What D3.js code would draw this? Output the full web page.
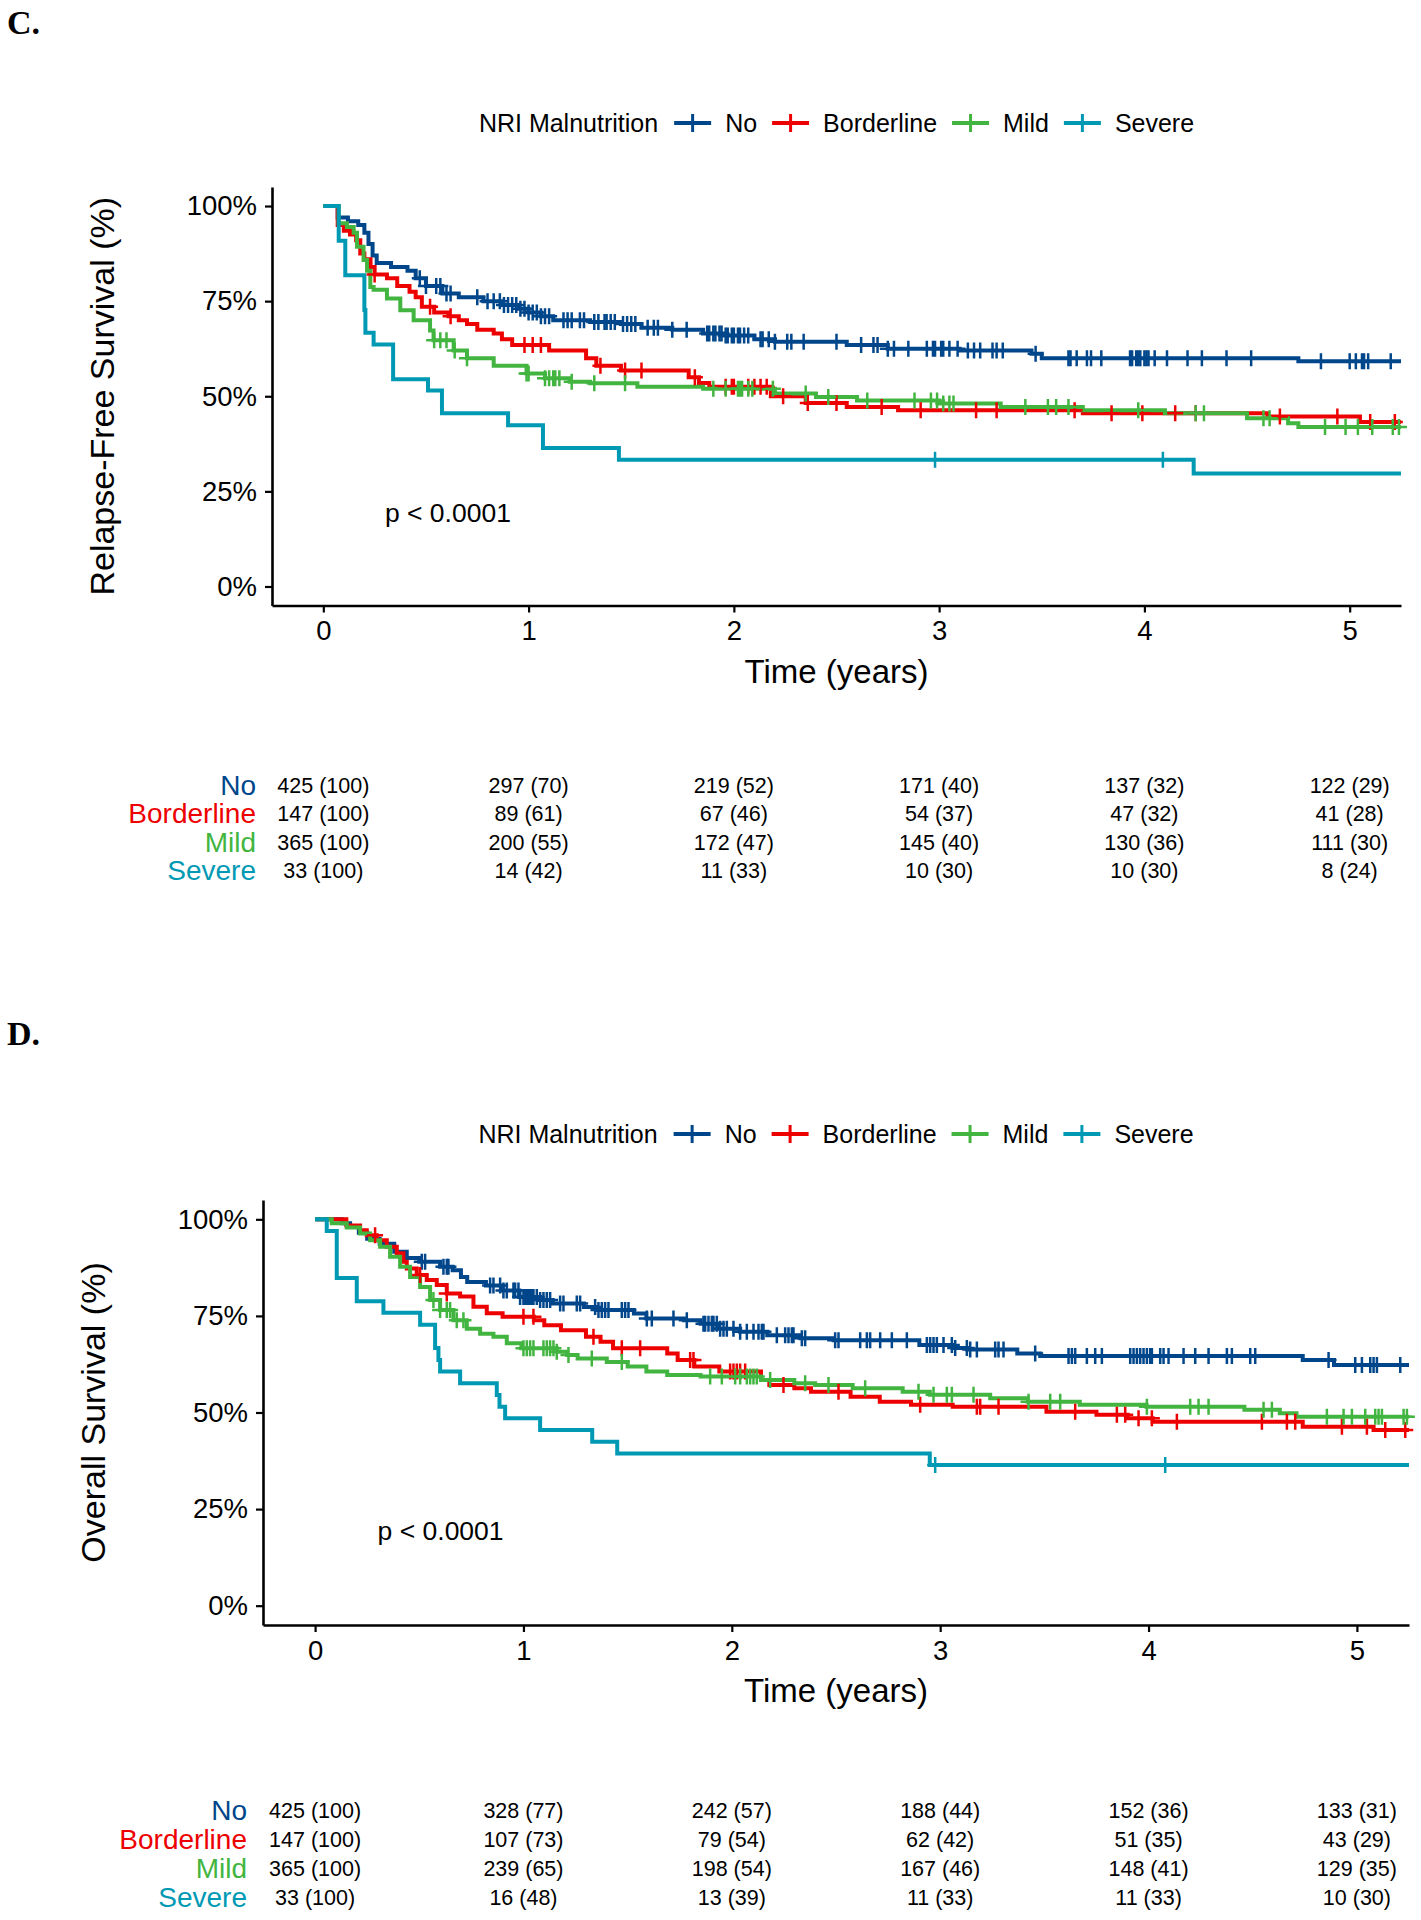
<!DOCTYPE html>
<html>
<head>
<meta charset="utf-8">
<script src="https://cdn.jsdelivr.net/npm/d3@7"></script>
<style>
  body { margin: 0; background: #fff; }
  svg { display: block; }
</style>
</head>
<body>
<svg id="svg" width="1421" height="1920"></svg>
<script>

// groups and colours (Lancet palette)
var groups = ["No", "Borderline", "Mild", "Severe"];
var groupColors = ["#00468B", "#ED0000", "#42B540", "#0099B4"];
var legendTitle = "NRI Malnutrition";

var xTicks = [0, 1, 2, 3, 4, 5];
var yTicks = [0, 0.25, 0.5, 0.75, 1];

// ---------- C. relapse-free survival : steps [time, survival] ----------
var rfsNo = [[0,1],[0.07,0.97],[0.12,0.96],[0.17,0.95],[0.2,0.93],[0.22,0.9],[0.24,0.87],[0.26,0.85],[0.33,0.84],[0.41,0.83],[0.45,0.81],[0.5,0.79],[0.58,0.77],[0.66,0.76],[0.78,0.75],[0.87,0.74],[0.95,0.73],[1.0,0.72],[1.06,0.71],[1.12,0.70],[1.3,0.695],[1.45,0.69],[1.55,0.68],[1.7,0.675],[1.85,0.665],[1.95,0.66],[2.1,0.65],[2.2,0.643],[2.55,0.635],[2.75,0.625],[3.1,0.62],[3.45,0.612],[3.5,0.60],[4.75,0.592]];
var rfsBorderline = [[0,1],[0.07,0.95],[0.1,0.935],[0.13,0.925],[0.16,0.91],[0.18,0.875],[0.2,0.86],[0.23,0.84],[0.25,0.82],[0.31,0.81],[0.36,0.79],[0.42,0.775],[0.45,0.76],[0.48,0.735],[0.54,0.72],[0.61,0.71],[0.66,0.70],[0.7,0.69],[0.75,0.675],[0.83,0.665],[0.87,0.65],[0.92,0.635],[1.1,0.62],[1.28,0.60],[1.33,0.58],[1.45,0.568],[1.78,0.55],[1.83,0.535],[1.88,0.525],[2.18,0.5],[2.35,0.482],[2.55,0.472],[2.8,0.463],[3.7,0.455],[4.6,0.447],[5.05,0.432]];
var rfsMild = [[0,1],[0.075,0.955],[0.115,0.945],[0.148,0.93],[0.164,0.893],[0.196,0.858],[0.213,0.83],[0.229,0.787],[0.245,0.78],[0.31,0.757],[0.375,0.726],[0.44,0.70],[0.52,0.673],[0.537,0.647],[0.635,0.62],[0.7,0.6],[0.83,0.58],[0.99,0.56],[1.08,0.547],[1.2,0.538],[1.3,0.534],[1.53,0.525],[1.85,0.52],[2.2,0.507],[2.4,0.498],[2.6,0.489],[3.0,0.481],[3.3,0.472],[3.7,0.463],[4.1,0.455],[4.5,0.442],[4.7,0.429],[4.75,0.419]];
var rfsSevere = [[0,1],[0.075,0.909],[0.107,0.818],[0.2,0.727],[0.205,0.667],[0.245,0.636],[0.34,0.545],[0.51,0.515],[0.578,0.455],[0.9,0.424],[1.07,0.364],[1.44,0.333],[4.24,0.297]];

// censor times
var rfsNoCens = [0.47,0.5,0.55,0.57,0.6,0.62,0.75,0.8,0.83,0.86,0.88,0.9,0.92,0.94,0.96,0.98,1.0,1.02,1.04,1.06,1.08,1.1,1.17,1.19,1.21,1.25,1.27,1.32,1.34,1.37,1.38,1.4,1.42,1.46,1.48,1.5,1.52,1.58,1.61,1.63,1.7,1.77,1.87,1.88,1.9,1.91,1.93,1.94,1.96,1.97,1.99,2.0,2.02,2.03,2.05,2.07,2.13,2.14,2.17,2.2,2.26,2.28,2.34,2.5,2.62,2.68,2.7,2.75,2.78,2.85,2.94,2.97,2.98,3.01,3.02,3.05,3.09,3.14,3.17,3.2,3.26,3.28,3.31,3.47,3.63,3.64,3.67,3.72,3.74,3.79,3.93,3.94,3.96,3.97,3.98,4.0,4.01,4.02,4.05,4.11,4.21,4.28,4.4,4.52,4.86,5.0,5.03,5.06,5.07,5.09,5.2];
var rfsBorderlineCens = [0.25,0.52,0.62,0.98,1.02,1.06,1.35,1.47,1.55,1.81,1.96,1.99,2.0,2.07,2.1,2.13,2.16,2.24,2.36,2.5,2.72,2.91,3.18,3.28,3.66,3.84,3.99,4.15,4.25,4.66,4.94,5.1,5.22];
var rfsMildCens = [0.54,0.57,0.6,0.64,0.7,0.99,1.0,1.08,1.1,1.12,1.13,1.15,1.21,1.32,1.47,1.9,1.96,2.02,2.03,2.04,2.07,2.09,2.19,2.35,2.46,2.65,2.88,2.96,2.99,3.02,3.05,3.07,3.42,3.53,3.57,3.63,3.97,4.25,4.29,4.58,4.61,4.88,4.98,5.04,5.11,5.21,5.24];
var rfsSevereCens = [2.98, 4.09];

// numbers at risk and (%)
var rfsRiskNo = [425, 297, 219, 171, 137, 122];
var rfsPctNo = [100, 70, 52, 40, 32, 29];
var rfsRiskBorderline = [147, 89, 67, 54, 47, 41];
var rfsPctBorderline = [100, 61, 46, 37, 32, 28];
var rfsRiskMild = [365, 200, 172, 145, 130, 111];
var rfsPctMild = [100, 55, 47, 40, 36, 30];
var rfsRiskSevere = [33, 14, 11, 10, 10, 8];
var rfsPctSevere = [100, 42, 33, 30, 30, 24];

// ---------- D. overall survival ----------
var osNo = [[0,1],[0.13,0.99],[0.168,0.98],[0.21,0.965],[0.25,0.95],[0.31,0.937],[0.38,0.916],[0.44,0.9],[0.5,0.89],[0.6,0.877],[0.66,0.868],[0.7,0.851],[0.73,0.838],[0.82,0.829],[0.9,0.816],[0.98,0.799],[1.08,0.791],[1.14,0.782],[1.29,0.773],[1.35,0.765],[1.53,0.756],[1.59,0.743],[1.77,0.739],[1.85,0.73],[1.93,0.717],[2.04,0.709],[2.17,0.7],[2.33,0.692],[2.49,0.687],[2.9,0.675],[3.06,0.667],[3.13,0.663],[3.37,0.653],[3.48,0.646],[4.74,0.636],[4.89,0.623]];
var osBorderline = [[0,1],[0.15,0.984],[0.216,0.972],[0.248,0.959],[0.296,0.946],[0.344,0.929],[0.392,0.912],[0.424,0.89],[0.44,0.873],[0.488,0.856],[0.536,0.843],[0.584,0.83],[0.632,0.808],[0.696,0.8],[0.76,0.774],[0.824,0.757],[0.9,0.748],[1.05,0.739],[1.1,0.726],[1.18,0.713],[1.3,0.696],[1.37,0.683],[1.43,0.666],[1.69,0.653],[1.74,0.636],[1.82,0.619],[1.94,0.606],[2.14,0.584],[2.18,0.571],[2.3,0.563],[2.38,0.554],[2.57,0.541],[2.71,0.528],[2.86,0.52],[3.06,0.515],[3.51,0.502],[3.75,0.494],[3.9,0.485],[4.02,0.476],[4.74,0.463],[5.08,0.455]];
var osMild = [[0,1],[0.08,0.99],[0.152,0.979],[0.216,0.963],[0.264,0.946],[0.312,0.929],[0.36,0.903],[0.408,0.877],[0.456,0.851],[0.504,0.825],[0.552,0.791],[0.6,0.765],[0.664,0.739],[0.728,0.717],[0.792,0.704],[0.856,0.696],[0.92,0.679],[0.99,0.666],[1.16,0.657],[1.21,0.649],[1.26,0.64],[1.4,0.631],[1.5,0.619],[1.59,0.606],[1.69,0.597],[1.85,0.593],[2.14,0.584],[2.3,0.576],[2.4,0.571],[2.58,0.563],[2.82,0.554],[2.95,0.546],[3.24,0.537],[3.42,0.528],[3.67,0.52],[3.99,0.515],[4.46,0.507],[4.63,0.498],[4.71,0.489]];
var osSevere = [[0,1],[0.056,0.97],[0.104,0.848],[0.2,0.788],[0.328,0.758],[0.504,0.727],[0.576,0.667],[0.592,0.636],[0.6,0.606],[0.696,0.576],[0.872,0.545],[0.885,0.515],[0.912,0.485],[1.08,0.455],[1.33,0.424],[1.45,0.394],[2.95,0.364]];

var osNoCens = [0.512,0.528,0.616,0.632,0.64,0.84,0.856,0.888,0.904,0.92,0.952,0.96,0.976,0.984,1.0,1.008,1.016,1.024,1.032,1.04,1.048,1.064,1.08,1.096,1.112,1.128,1.176,1.192,1.256,1.272,1.344,1.36,1.376,1.392,1.408,1.472,1.488,1.504,1.592,1.616,1.72,1.784,1.864,1.872,1.888,1.904,1.912,1.928,1.944,1.96,1.976,2.008,2.04,2.072,2.104,2.128,2.144,2.152,2.216,2.256,2.272,2.288,2.296,2.336,2.352,2.496,2.512,2.616,2.648,2.664,2.712,2.768,2.84,2.936,2.952,2.968,2.984,3.016,3.056,3.072,3.128,3.144,3.176,3.264,3.28,3.304,3.456,3.616,3.632,3.648,3.704,3.744,3.776,3.912,3.928,3.944,3.96,3.976,3.992,4.008,4.016,4.056,4.072,4.096,4.168,4.224,4.288,4.376,4.4,4.488,4.512,4.864,4.992,5.024,5.064,5.08,5.096,5.208];
var osBorderlineCens = [0.288,0.504,0.632,1.0,1.048,1.336,1.472,1.56,1.8,1.816,1.992,2.008,2.024,2.04,2.064,2.248,2.512,2.904,3.176,3.192,3.28,3.648,3.848,3.888,3.952,4.016,4.136,4.544,4.664,4.704,4.928,5.048,5.136,5.232];
var osMildCens = [0.568,0.6,0.632,0.648,0.68,0.712,1.0,1.016,1.032,1.048,1.096,1.112,1.128,1.144,1.16,1.216,1.328,1.472,1.896,1.952,2.016,2.04,2.072,2.088,2.104,2.12,2.184,2.352,2.464,2.64,2.896,2.968,3.032,3.056,3.16,3.424,3.528,3.576,3.992,4.2,4.24,4.288,4.552,4.592,4.856,4.936,4.976,5.04,5.088,5.104,5.12,5.224,5.24];
var osSevereCens = [2.976, 4.08];

var osRiskNo = [425, 328, 242, 188, 152, 133];
var osPctNo = [100, 77, 57, 44, 36, 31];
var osRiskBorderline = [147, 107, 79, 62, 51, 43];
var osPctBorderline = [100, 73, 54, 42, 35, 29];
var osRiskMild = [365, 239, 198, 167, 148, 129];
var osPctMild = [100, 65, 54, 46, 41, 35];
var osRiskSevere = [33, 16, 13, 11, 11, 10];
var osPctSevere = [100, 48, 39, 33, 33, 30];


// panel layout
var sans = "'Liberation Sans', Arial, sans-serif";
var xDomain = [-0.25, 5.25];
var yDomain = [-0.05, 1.05];

var panels = [
	{
		letter: "C.", letterY: 34,
		yTitle: "Relapse-Free Survival (%)",
		left: 272, right: 1401, top: 187, bottom: 605.5,
		legendY: 123, riskTop: 785, riskStep: 28.5,
		curves: [rfsNo, rfsBorderline, rfsMild, rfsSevere],
		cens: [rfsNoCens, rfsBorderlineCens, rfsMildCens, rfsSevereCens],
		risk: [rfsRiskNo, rfsRiskBorderline, rfsRiskMild, rfsRiskSevere],
		pct: [rfsPctNo, rfsPctBorderline, rfsPctMild, rfsPctSevere]
	},
	{
		letter: "D.", letterY: 1045,
		yTitle: "Overall Survival (%)",
		left: 263, right: 1409, top: 1200, bottom: 1625,
		legendY: 1134, riskTop: 1810, riskStep: 29,
		curves: [osNo, osBorderline, osMild, osSevere],
		cens: [osNoCens, osBorderlineCens, osMildCens, osSevereCens],
		risk: [osRiskNo, osRiskBorderline, osRiskMild, osRiskSevere],
		pct: [osPctNo, osPctBorderline, osPctMild, osPctSevere]
	}
];

var svg = d3.select("#svg");
svg.append("rect").attr("width", 1421).attr("height", 1920).attr("fill", "#fff");

// survival value of a step curve at time t
var survAt = function( steps , t )
{
	var s = 1;
	for (var i = 0; i < steps.length; i++) {
		if (steps[i][0] <= t) s = steps[i][1];
		else break;
	}
	return s;
};

var drawPanel = function( p )
{
	var g = svg.append("g");

	var x = d3.scaleLinear().domain(xDomain).range([p.left, p.right]);
	var y = d3.scaleLinear().domain(yDomain).range([p.bottom, p.top]);

	// panel letter
	g.append("text")
		.attr("x", 7).attr("y", p.letterY)
		.attr("font-family", "'Liberation Serif', 'Times New Roman', serif")
		.attr("font-weight", "bold")
		.attr("font-size", 34)
		.text(p.letter);

	// curves
	var line = d3.line()
		.x(function(d){ return x(d[0]); })
		.y(function(d){ return y(d[1]); })
		.curve(d3.curveStepAfter);

	p.curves.forEach(function(steps, i){
		var pts = steps.concat([[xDomain[1], steps[steps.length - 1][1]]]);
		g.append("path")
			.attr("d", line(pts))
			.attr("fill", "none")
			.attr("stroke", groupColors[i])
			.attr("stroke-width", 4);
	});

	// censor marks "+"
	var m = 8;
	p.cens.forEach(function(times, i){
		g.append("g").selectAll("path")
			.data(times)
			.enter().append("path")
			.attr("d", function(t){
				var cx = x(t), cy = y(survAt(p.curves[i], t));
				return "M" + (cx - m) + "," + cy + "H" + (cx + m) + "M" + cx + "," + (cy - m) + "V" + (cy + m);
			})
			.attr("stroke", groupColors[i])
			.attr("stroke-width", 2.5)
			.attr("fill", "none");
	});

	// axes
	var yAxis = g.append("g")
		.attr("transform", "translate(" + p.left + ",0)")
		.call(d3.axisLeft(y).tickValues(yTicks).tickFormat(d3.format(".0%"))
			.tickSize(7).tickSizeOuter(0).tickPadding(8));
	var xAxis = g.append("g")
		.attr("transform", "translate(0," + p.bottom + ")")
		.call(d3.axisBottom(x).tickValues(xTicks).tickFormat(d3.format("d"))
			.tickSize(7).tickSizeOuter(0).tickPadding(8));

	[yAxis, xAxis].forEach(function(a){
		a.select(".domain").attr("stroke", "#000").attr("stroke-width", 2.6);
		a.selectAll(".tick line").attr("stroke", "#000").attr("stroke-width", 2.2);
		a.selectAll(".tick text")
			.attr("fill", "#000")
			.attr("font-family", sans)
			.attr("font-size", 27.5);
	});

	// axis titles
	g.append("text")
		.attr("transform", "translate(" + (p.left - 158) + "," + ((p.top + p.bottom) / 2) + ") rotate(-90)")
		.attr("text-anchor", "middle")
		.attr("font-family", sans)
		.attr("font-size", 34)
		.text(p.yTitle);

	g.append("text")
		.attr("x", (p.left + p.right) / 2)
		.attr("y", p.bottom + 77)
		.attr("text-anchor", "middle")
		.attr("font-family", sans)
		.attr("font-size", 33)
		.text("Time (years)");

	// p-value
	g.append("text")
		.attr("x", x(0.3))
		.attr("y", y(0.17))
		.attr("font-family", sans)
		.attr("font-size", 26.5)
		.text("p < 0.0001");

	// legend, centred over the panel
	var leg = g.append("g");
	var cursor = 0;
	var title = leg.append("text")
		.attr("x", 0).attr("y", p.legendY).attr("dy", "0.35em")
		.attr("font-family", sans).attr("font-size", 25)
		.text(legendTitle);
	cursor += title.node().getComputedTextLength() + 16;
	groups.forEach(function(name, i){
		leg.append("line")
			.attr("x1", cursor).attr("x2", cursor + 37)
			.attr("y1", p.legendY).attr("y2", p.legendY)
			.attr("stroke", groupColors[i]).attr("stroke-width", 4);
		leg.append("line")
			.attr("x1", cursor + 18.5).attr("x2", cursor + 18.5)
			.attr("y1", p.legendY - 9).attr("y2", p.legendY + 9)
			.attr("stroke", groupColors[i]).attr("stroke-width", 3);
		cursor += 37 + 14;
		var t = leg.append("text")
			.attr("x", cursor).attr("y", p.legendY).attr("dy", "0.35em")
			.attr("font-family", sans).attr("font-size", 25)
			.text(name);
		cursor += t.node().getComputedTextLength() + 15;
	});
	var legWidth = cursor - 15;
	leg.attr("transform", "translate(" + ((p.left + p.right) / 2 - legWidth / 2) + ",0)");

	// risk table
	groups.forEach(function(name, i){
		var ry = p.riskTop + i * p.riskStep;
		g.append("text")
			.attr("x", p.left - 16).attr("y", ry).attr("dy", "0.35em")
			.attr("text-anchor", "end")
			.attr("font-family", sans).attr("font-size", 28)
			.attr("fill", groupColors[i])
			.text(name);
		g.append("g").selectAll("text")
			.data(xTicks)
			.enter().append("text")
			.attr("x", function(d){ return x(d); })
			.attr("y", ry).attr("dy", "0.35em")
			.attr("text-anchor", "middle")
			.attr("font-family", sans).attr("font-size", 21.5)
			.text(function(d, k){ return p.risk[i][k] + " (" + p.pct[i][k] + ")"; });
	});
};

panels.forEach(drawPanel);

</script>
</body>
</html>
